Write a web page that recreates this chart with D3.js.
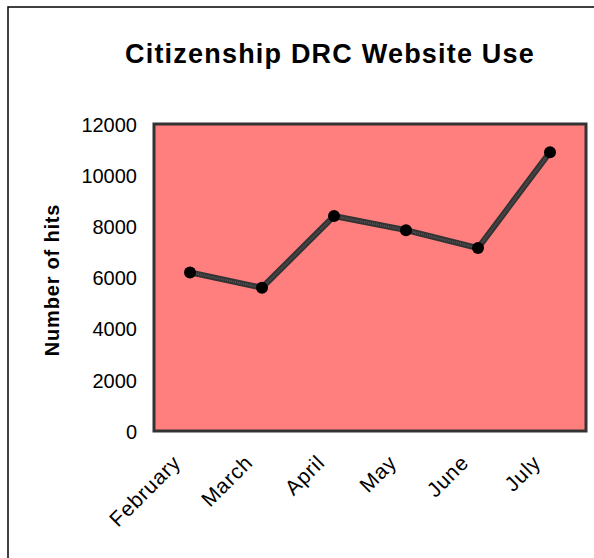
<!DOCTYPE html>
<html><head><meta charset="utf-8">
<script src="https://cdn.jsdelivr.net/npm/d3@7/dist/d3.min.js"></script>
<style>body{margin:0;background:#fff}svg{display:block}</style>
</head><body>
<script>
const months = ["February","March","April","May","June","July"];
const hits = [6200, 5600, 8400, 7850, 7150, 10900];
const yTicks = [0,2000,4000,6000,8000,10000,12000];
const title = "Citizenship DRC Website Use";
const yTitle = "Number of hits";

const W=594,H=558;
const svg=d3.select("body").append("svg").attr("width",W).attr("height",H);
const font="'Liberation Sans', Arial, sans-serif";
svg.append("rect").attr("x",8).attr("y",7).attr("width",W+10).attr("height",H+10)
  .attr("fill","#fff").attr("stroke","#000").attr("stroke-width",1.5);

const L=154,T=124,R=586,B=431;
const x=d3.scaleBand().domain(months).range([L,R]);
const y=d3.scaleLinear().domain([0,12000]).range([B,T]);

svg.append("rect").attr("x",L).attr("y",T).attr("width",R-L).attr("height",B-T)
  .attr("fill","#FF7F7F").attr("stroke","#333").attr("stroke-width",3);

const yAxis=svg.append("g").attr("transform",`translate(${L},0)`)
  .call(d3.axisLeft(y).tickValues(yTicks).tickSize(0).tickPadding(17).tickFormat(d3.format("d")));
yAxis.select(".domain").remove();
yAxis.selectAll("text").attr("font-family",font).attr("font-size",20).attr("fill","#000").attr("dy","0.36em");

const xAxis=svg.append("g").attr("transform",`translate(0,${B})`)
  .call(d3.axisBottom(x).tickSize(0).tickPadding(0));
xAxis.select(".domain").remove();
xAxis.selectAll("text").attr("font-family",font).attr("font-size",21).attr("fill","#000")
  .attr("letter-spacing",0.8)
  .attr("text-anchor","end").attr("dy",0).attr("y",0)
  .attr("transform","translate(-8,33) rotate(-45)");

const line=d3.line().x((d,i)=>x(months[i])+x.bandwidth()/2).y(d=>y(d));
svg.append("path").datum(hits).attr("d",line).attr("fill","none")
  .attr("stroke","#333").attr("stroke-width",6).attr("stroke-linejoin","miter");
svg.append("path").datum(hits).attr("d",line).attr("fill","none")
  .attr("stroke","#555").attr("stroke-width",2).attr("stroke-dasharray","1 1");
svg.selectAll("circle.pt").data(hits).enter().append("circle")
  .attr("cx",(d,i)=>x(months[i])+x.bandwidth()/2).attr("cy",d=>y(d)).attr("r",6).attr("fill","#000");

svg.append("text").attr("x",330).attr("y",63).attr("text-anchor","middle")
  .attr("font-family",font).attr("font-weight","bold").attr("font-size",27)
  .attr("letter-spacing",1.2).text(title);
svg.append("text").attr("transform",`translate(59,280) rotate(-90)`).attr("text-anchor","middle")
  .attr("font-family",font).attr("font-weight","bold").attr("font-size",20)
  .attr("letter-spacing",0.8).text(yTitle);
</script>
</body></html>
